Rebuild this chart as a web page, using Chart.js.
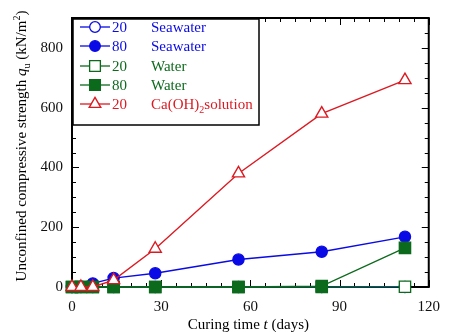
<!DOCTYPE html>
<html>
<head>
<meta charset="utf-8">
<script src="https://cdn.jsdelivr.net/npm/chart.js@4/dist/chart.umd.min.js"></script>
<style>
  html, body { margin: 0; padding: 0; background: #fff; }
  #wrap { width: 451px; height: 332px; }
</style>
</head>
<body>
<div id="wrap"><canvas id="c" width="451" height="332"></canvas></div>
<script>
// ---- data ----
const days = [0, 3, 7, 14, 28, 56, 84, 112];
const seawater20 = [0, 0, 0, 0, 0, 0, 0, 0];
const seawater80 = [0, 2, 12, 30, 46, 92, 118, 168];
const water20 = [0, 0, 0, 0, 0, 0, 0, 1];
const water80 = [0, 0, 0, 0, 0, 0, 3, 131];
const caoh20 = [0, 0, 0, 23, 128, 380, 580, 692];

const xTicks = [0, 30, 60, 90, 120];
const yTicks = [0, 200, 400, 600, 800];
const legendTemps = ['20', '80', '20', '80', '20'];
const legendNames = ['Seawater', 'Seawater', 'Water', 'Water', 'Ca(OH)|2|solution'];

// ---- styles ----
const BLUE = '#0a0ae6';
const GREEN = '#0c6a1c';
const RED = '#dc1a22';
const FONT = '"Liberation Serif", "Times New Roman", serif';

function pts(vals) { return days.map((d, i) => ({ x: d, y: vals[i] })); }

const datasets = [
  { data: pts(seawater20), borderColor: BLUE, backgroundColor: '#fff', pointStyle: 'circle', pointRadius: 5.6, borderWidth: 1.3, pointBorderWidth: 1.3, order: 4, clip: false },
  { data: pts(seawater80), borderColor: BLUE, backgroundColor: BLUE, pointStyle: 'circle', pointRadius: 5.6, borderWidth: 1.3, pointBorderWidth: 1.3, order: 3, clip: false },
  { data: pts(water20), borderColor: GREEN, backgroundColor: '#fff', pointStyle: 'rect', pointRadius: 8, borderWidth: 1.3, pointBorderWidth: 1.3, order: 2, clip: false },
  { data: pts(water80), borderColor: GREEN, backgroundColor: GREEN, pointStyle: 'rect', pointRadius: 8, borderWidth: 1.3, pointBorderWidth: 1.3, order: 1, clip: false },
  { data: pts(caoh20), borderColor: RED, backgroundColor: '#fff', pointStyle: 'triangle', pointRadius: 7, borderWidth: 1.4, pointBorderWidth: 1.4, order: 0, clip: false }
];

function drawMarker(ctx, style, x, y, r, stroke, fill, lw) {
  ctx.save();
  ctx.lineWidth = lw; ctx.strokeStyle = stroke; ctx.fillStyle = fill;
  Chart.helpers.drawPoint(ctx, { pointStyle: style, rotation: 0, radius: r, borderWidth: lw }, x, y);
  ctx.restore();
}

const decor = {
  id: 'decor',
  beforeDatasetsDraw(chart) {
    const ctx = chart.ctx;
    const a = chart.chartArea;
    const xs = chart.scales.x, ys = chart.scales.y;
    ctx.save();
    ctx.strokeStyle = '#000';
    ctx.lineWidth = 2;
    ctx.strokeRect(a.left, a.top, a.right - a.left, a.bottom - a.top);
    ctx.lineWidth = 1;
    for (let v = 0; v <= 900; v += 50) {
      const y = Math.round(ys.getPixelForValue(v)) + 0.5;
      const len = (v % 200 === 0) ? 7 : 4;
      ctx.beginPath();
      ctx.moveTo(a.left, y); ctx.lineTo(a.left + len, y);
      ctx.moveTo(a.right, y); ctx.lineTo(a.right - len, y);
      ctx.stroke();
    }
    for (let v = 0; v <= 120; v += 5) {
      const x = Math.round(xs.getPixelForValue(v)) + 0.5;
      const len = (v % 30 === 0) ? 7 : 4;
      ctx.beginPath();
      ctx.moveTo(x, a.bottom); ctx.lineTo(x, a.bottom - len);
      ctx.moveTo(x, a.top); ctx.lineTo(x, a.top + len);
      ctx.stroke();
    }
    ctx.restore();
  },
  afterDraw(chart) {
    const ctx = chart.ctx;
    const a = chart.chartArea;
    ctx.save();
    // x title
    ctx.fillStyle = '#000';
    ctx.textBaseline = 'alphabetic';
    const xparts = [['Curing time ', ''], ['t', 'italic '], [' (days)', '']];
    let tw = 0;
    xparts.forEach(p => { ctx.font = p[1] + '15px ' + FONT; tw += ctx.measureText(p[0]).width; });
    let cx = (a.left + a.right) / 2 - tw / 2 - 2;
    xparts.forEach(p => { ctx.font = p[1] + '15px ' + FONT; ctx.textAlign = 'left'; ctx.fillText(p[0], cx, 329); cx += ctx.measureText(p[0]).width; });
    // y title
    ctx.save();
    ctx.translate(26, 146);
    ctx.rotate(-Math.PI / 2);
    const yparts = [
      ['Unconfined compressive strength ', '15px ', 0],
      ['q', 'italic 15px ', 0],
      ['u', '10px ', 4],
      [' (kN/m', '15px ', 0],
      ['2', '10px ', -6],
      [')', '15px ', 0]
    ];
    tw = 0;
    yparts.forEach(p => { ctx.font = p[1] + FONT; tw += ctx.measureText(p[0]).width; });
    cx = -tw / 2;
    yparts.forEach(p => { ctx.font = p[1] + FONT; ctx.fillText(p[0], cx, p[2]); cx += ctx.measureText(p[0]).width; });
    ctx.restore();
    // legend
    const lx = a.left + 1, ly = a.top + 1, lw = 259 - lx, lh = 125 - ly;
    ctx.fillStyle = '#fff';
    ctx.fillRect(lx, ly, lw, lh);
    ctx.strokeStyle = '#000';
    ctx.lineWidth = 1.5;
    ctx.strokeRect(lx, ly, lw, lh);
    const rowsY = [27, 46, 66, 85, 104];
    datasets.forEach((ds, i) => {
      const y = rowsY[i];
      ctx.strokeStyle = ds.borderColor;
      ctx.lineWidth = 1.3;
      ctx.beginPath(); ctx.moveTo(80, y); ctx.lineTo(110, y); ctx.stroke();
      drawMarker(ctx, ds.pointStyle, 95, y, ds.pointRadius * 0.95, ds.borderColor, ds.backgroundColor, ds.pointBorderWidth);
      ctx.fillStyle = ds.borderColor;
      ctx.font = '15px ' + FONT;
      ctx.textAlign = 'left';
      ctx.textBaseline = 'alphabetic';
      ctx.fillText(legendTemps[i], 112, y + 5);
      const segs = legendNames[i].split('|');
      let nx = 151;
      segs.forEach((s, k) => {
        if (k === 1) { ctx.font = '10px ' + FONT; ctx.fillText(s, nx, y + 9); }
        else { ctx.font = '15px ' + FONT; ctx.fillText(s, nx, y + 5); }
        nx += ctx.measureText(s).width;
      });
    });
    ctx.restore();
  }
};

new Chart(document.getElementById('c'), {
  type: 'line',
  data: { datasets },
  options: {
    responsive: false,
    animation: false,
    layout: { padding: { top: 13, right: 11, left: 0, bottom: 0 } },
    plugins: { legend: { display: false }, tooltip: { enabled: false } },
    elements: { line: { tension: 0 } },
    scales: {
      x: {
        type: 'linear', min: 0, max: 120,
        grid: { display: false, drawTicks: false },
        border: { display: false },
        afterBuildTicks: s => { s.ticks = xTicks.map(v => ({ value: v })); },
        afterFit: s => { s.height = 45; },
        ticks: { padding: 11, color: '#111', font: { family: FONT, size: 15 }, maxRotation: 0 }
      },
      y: {
        type: 'linear', min: 0, max: 900,
        grid: { display: false, drawTicks: false },
        border: { display: false },
        afterBuildTicks: s => { s.ticks = yTicks.map(v => ({ value: v })); },
        afterFit: s => { s.width = 72; },
        ticks: { padding: 9, color: '#111', font: { family: FONT, size: 15 } }
      }
    }
  },
  plugins: [decor]
});
</script>
</body>
</html>
